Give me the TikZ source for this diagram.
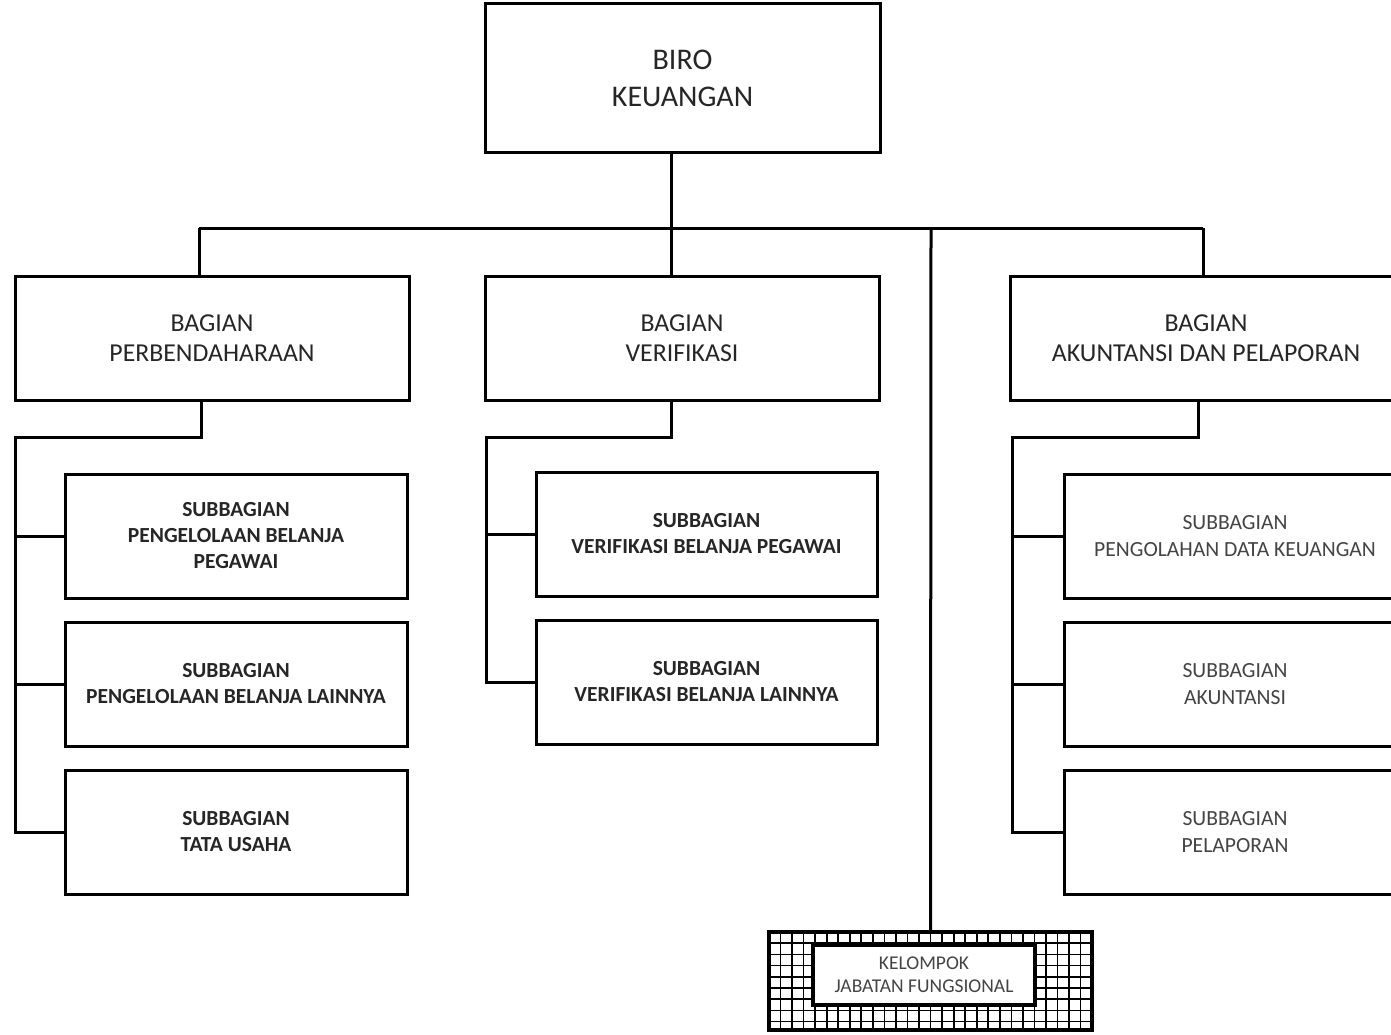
\documentclass[tikz,border=0pt]{standalone}
\usepackage{fontspec}
\setmainfont{Carlito}
\definecolor{txt}{HTML}{262626}
\definecolor{txtl}{HTML}{444444}
\begin{document}
\begin{tikzpicture}[x=1pt,y=-1pt,line width=3pt,
  box/.style={draw=black,line width=3pt,rectangle,inner sep=0pt,align=center,fill=white},
  birobox/.style={box,minimum width=395pt,minimum height=149pt,font=\fontsize{30}{37}\selectfont,text=txt},
  bagbox/.style={box,minimum width=394pt,minimum height=124pt,font=\fontsize{25.8}{30}\selectfont,text=txt},
  subbold/.style={box,minimum width=342pt,minimum height=124pt,font=\fontsize{21.5}{26}\selectfont\bfseries,text=txt},
  subreg/.style={box,minimum width=342pt,minimum height=124pt,font=\fontsize{21.6}{27}\selectfont,text=txtl},
  conn/.style={draw=black,line width=3pt},
  gridline/.style={draw=black,line width=1.7pt}]
\useasboundingbox (0,0) rectangle (1391,1035);
\clip (0,0) rectangle (1391,1035);
\fill[white] (0,0) rectangle (1391,1035);

% top
\node[birobox] (biro) at (682.5,78.5) {BIRO\\KEUANGAN};

% bagian
\node[bagbox] (bagP) at (212,338) {BAGIAN\\PERBENDAHARAAN};
\node[bagbox] (bagV) at (682,338) {BAGIAN\\VERIFIKASI};
\node[bagbox,minimum width=392pt] (bagA) at (1206,338) {BAGIAN\\AKUNTANSI DAN PELAPORAN};

% subbagian left
\node[subbold] (subP1) at (236,536) {SUBBAGIAN\\PENGELOLAAN BELANJA\\PEGAWAI};
\node[subbold] (subP2) at (236,684) {SUBBAGIAN\\PENGELOLAAN BELANJA LAINNYA};
\node[subbold] (subP3) at (236,832) {SUBBAGIAN\\TATA USAHA};

% subbagian middle
\node[subbold,minimum width=341pt] (subV1) at (706.5,534) {SUBBAGIAN\\VERIFIKASI BELANJA PEGAWAI};
\node[subbold,minimum width=341pt] (subV2) at (706.5,682) {SUBBAGIAN\\VERIFIKASI BELANJA LAINNYA};

% subbagian right
\node[subreg] (subA1) at (1235,536) {SUBBAGIAN\\PENGOLAHAN DATA KEUANGAN};
\node[subreg] (subA2) at (1235,684) {SUBBAGIAN\\AKUNTANSI};
\node[subreg] (subA3) at (1235,832) {SUBBAGIAN\\PELAPORAN};

% kelompok jabatan fungsional
\node[draw=black,line width=3.5pt,rectangle,inner sep=0pt,minimum width=323pt,minimum height=98pt,fill=white] (kel) at (930.5,981) {};
\begin{scope}
  \clip (769,932) rectangle (1092,1030);
  \foreach \i in {1,...,27} \draw[gridline] (769+\i*11.54,932) -- ++(0,98);
  \foreach \j in {1,...,8} \draw[gridline] (769,932+\j*11.2) -- ++(323,0);
\end{scope}
\node[draw=black,line width=3.5pt,rectangle,inner sep=0pt,minimum width=323pt,minimum height=98pt] at (kel.center) {};
\node[draw=black,line width=4pt,rectangle,inner sep=0pt,minimum width=222pt,minimum height=60pt,fill=white,
  align=center,font=\fontsize{19.5}{23}\selectfont,text=txtl] (kin) at (924,975) {KELOMPOK\\JABATAN FUNGSIONAL};

% connectors
\coordinate (bus) at (0,228);
\coordinate (busL) at (199,228);
\coordinate (busR) at (1203,228);
\draw[conn] ([xshift=-11.5pt]biro.south) -- ([xshift=-11.5pt]biro.south |- bus);
\draw[conn] (busL) -- (busR);
\draw[conn] (busL) -- (busL |- bagP.north);
\draw[conn] ([xshift=-11pt]bagV.north |- bus) -- ([xshift=-11pt]bagV.north);
\draw[conn] (busR) -- (busR |- bagA.north);
\draw[conn] (931,228) -- (kel.north);

% left tree
\coordinate (spP) at (15,437);
\draw[conn] ([xshift=-11pt]bagP.south) |- (spP) |- (subP3.west);
\draw[conn] (spP |- subP1.west) -- (subP1.west);
\draw[conn] (spP |- subP2.west) -- (subP2.west);

% middle tree
\coordinate (spV) at (486,437);
\draw[conn] ([xshift=-11pt]bagV.south) |- (spV) |- (subV2.west);
\draw[conn] (spV |- subV1.west) -- (subV1.west);

% right tree
\coordinate (spA) at (1012,437);
\draw[conn] ([xshift=-8pt]bagA.south) |- (spA) |- (subA3.west);
\draw[conn] (spA |- subA1.west) -- (subA1.west);
\draw[conn] (spA |- subA2.west) -- (subA2.west);
\end{tikzpicture}
\end{document}
